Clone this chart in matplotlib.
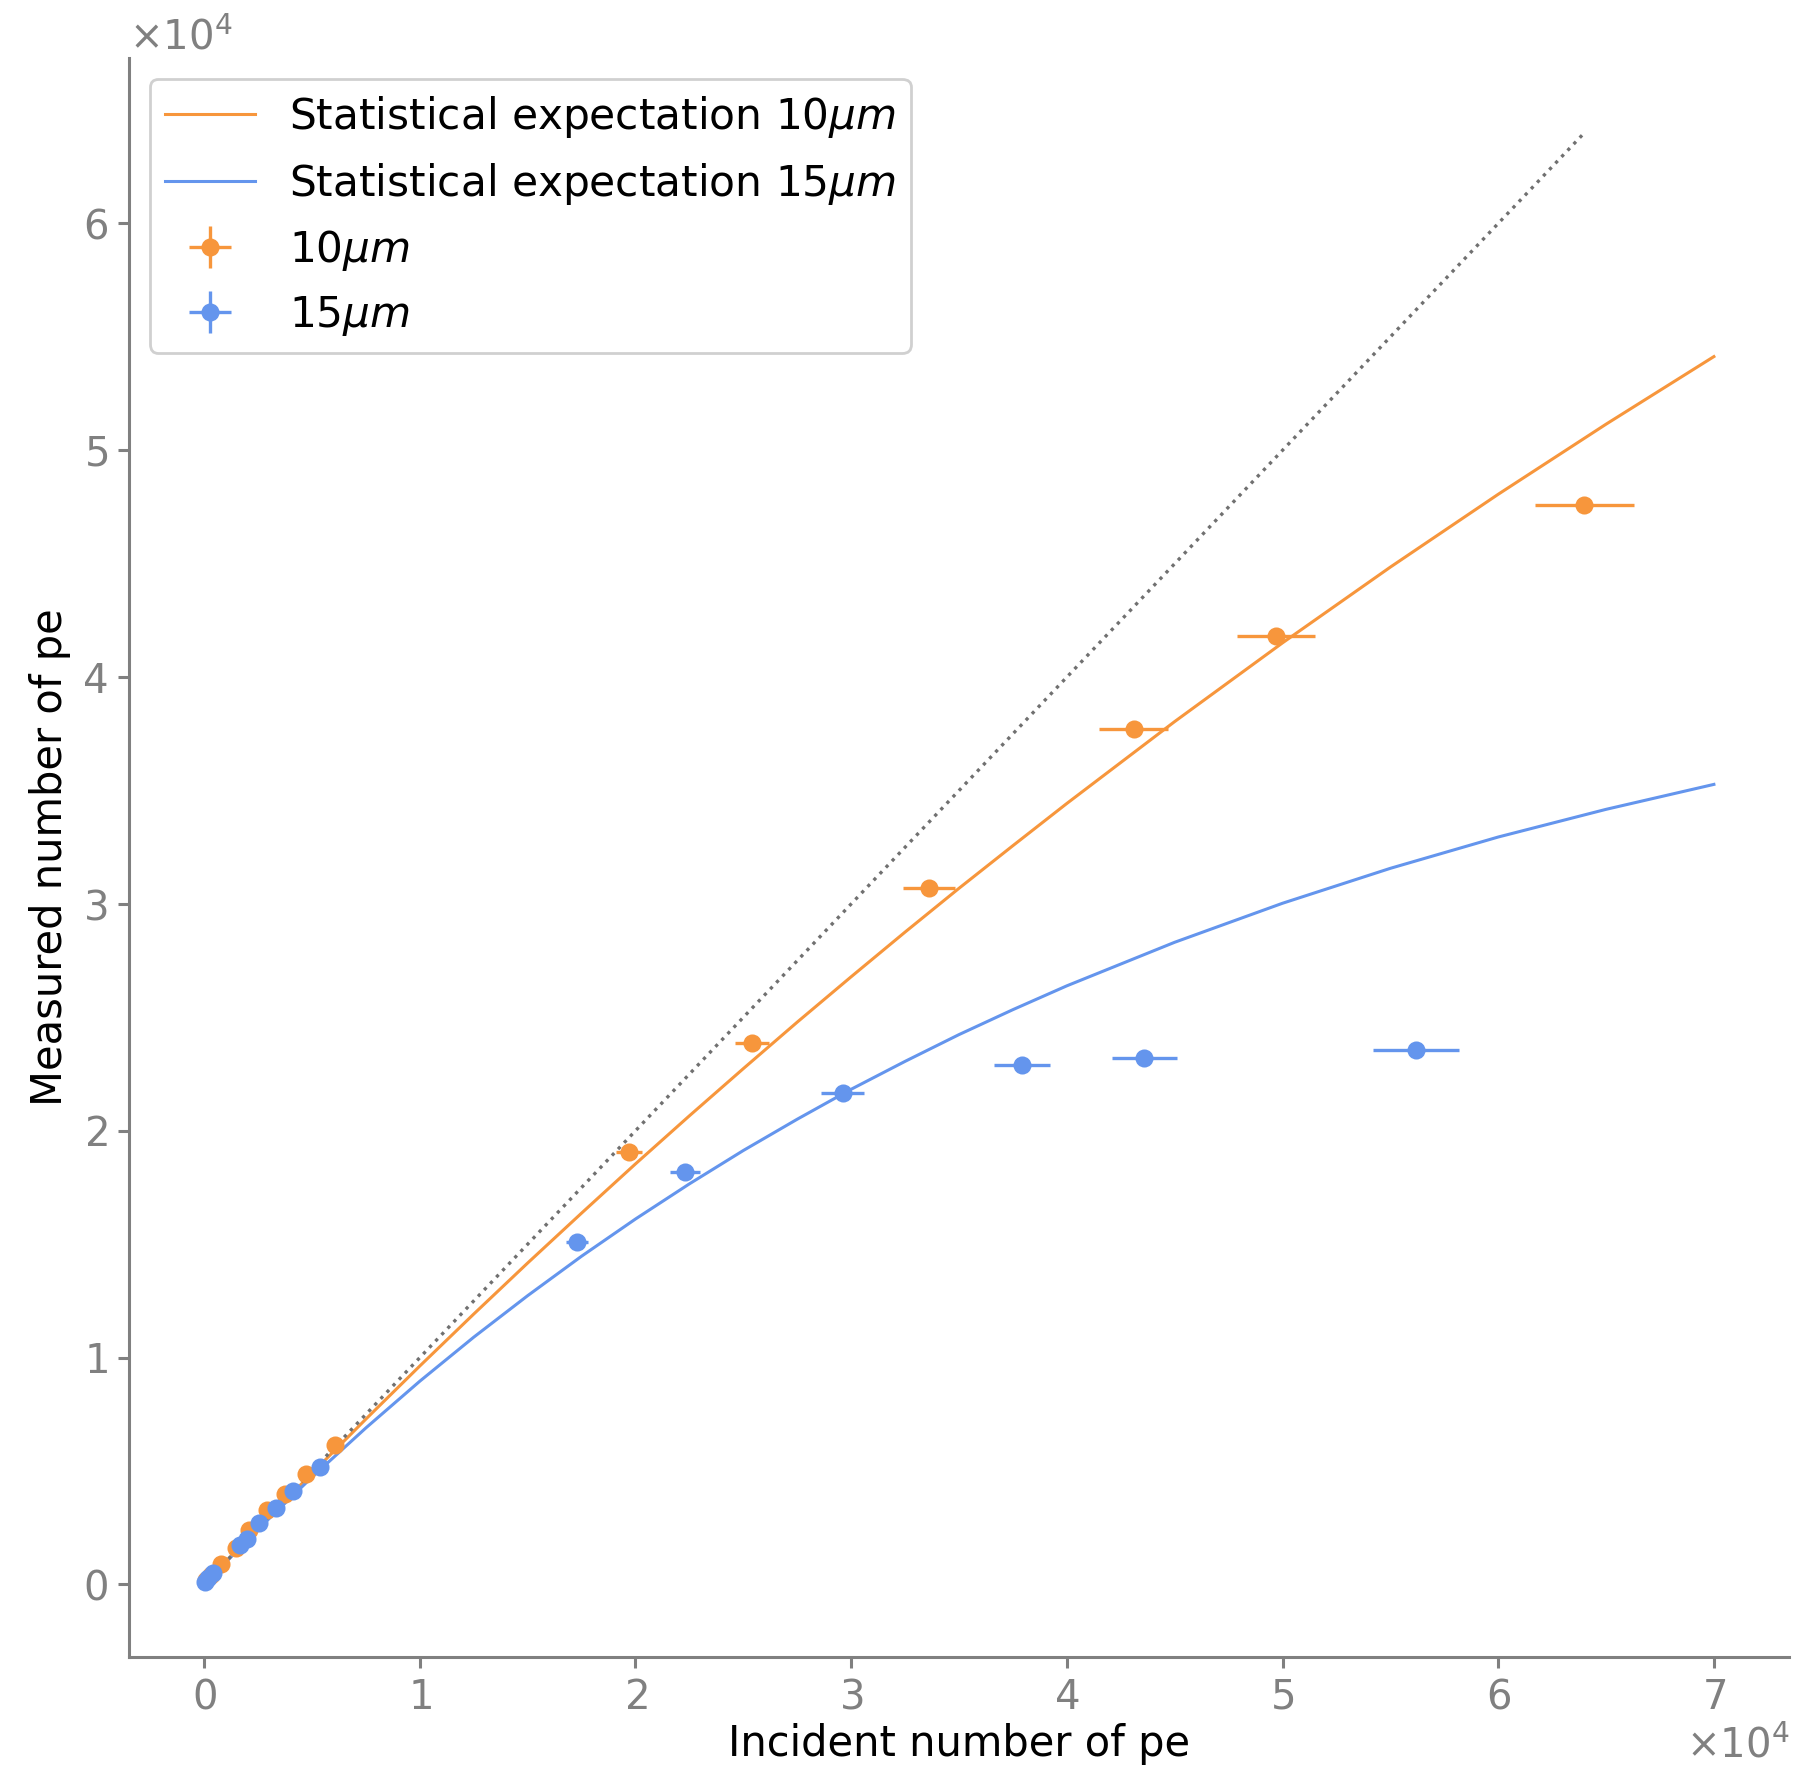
import numpy as np
import matplotlib.pyplot as plt

# measured points, 10um cells (units of 1e4 pe)
x10 = [0.01, 0.03, 0.08, 0.15, 0.21, 0.29, 0.376, 0.47, 0.607, 1.97, 2.54, 3.36, 4.31, 4.97, 6.40]
y10 = [0.02, 0.04, 0.09, 0.16, 0.24, 0.33, 0.40, 0.485, 0.613, 1.905, 2.385, 3.07, 3.77, 4.18, 4.76]
xerr10 = [0.0, 0.0, 0.0, 0.005, 0.01, 0.01, 0.01, 0.015, 0.02, 0.06, 0.08, 0.12, 0.16, 0.18, 0.23]
yerr10 = [0.0, 0.0, 0.0, 0.005, 0.01, 0.01, 0.01, 0.01, 0.015, 0.03, 0.03, 0.03, 0.03, 0.03, 0.03]

# measured points, 15um cells
x15 = [0.005, 0.02, 0.04, 0.167, 0.2, 0.256, 0.334, 0.414, 0.537, 1.73, 2.23, 2.96, 3.79, 4.36, 5.62]
y15 = [0.01, 0.03, 0.05, 0.173, 0.2, 0.27, 0.337, 0.414, 0.516, 1.51, 1.82, 2.165, 2.29, 2.32, 2.355]
xerr15 = [0.0, 0.0, 0.0, 0.005, 0.01, 0.01, 0.01, 0.015, 0.02, 0.05, 0.07, 0.10, 0.13, 0.15, 0.20]
yerr15 = [0.0, 0.0, 0.0, 0.005, 0.01, 0.01, 0.01, 0.01, 0.015, 0.03, 0.03, 0.02, 0.02, 0.02, 0.02]

# expectation curves
xc = [0, 0.25, 0.5, 0.75, 1, 1.25, 1.5, 1.75, 2, 2.25, 2.5, 2.75, 3, 3.25, 3.5, 3.75, 4,
      4.5, 5, 5.5, 6, 6.5, 7]
yc10 = [0, 0.248, 0.49, 0.729, 0.963, 1.192, 1.417, 1.637, 1.854, 2.066, 2.274, 2.479,
        2.679, 2.876, 3.069, 3.257, 3.443, 3.804, 4.151, 4.485, 4.806, 5.115, 5.413]
yc15 = [0, 0.243, 0.473, 0.69, 0.896, 1.09, 1.273, 1.447, 1.611, 1.766, 1.913, 2.051,
        2.183, 2.306, 2.424, 2.534, 2.639, 2.831, 3.003, 3.157, 3.295, 3.417, 3.527]

# identity line
xd = [0, 6.4]
yd = [0, 6.4]

orange = '#f7963c'
blue = '#6495ed'
grey = '#808080'
scale = 1e4

plt.rcParams['font.family'] = ['DejaVu Sans']
plt.rcParams['mathtext.fontset'] = 'dejavusans'

fig = plt.figure(figsize=(9.085, 8.845), dpi=200)
ax = fig.add_axes([0.0708, 0.0633, 0.914, 0.904])

ax.plot(np.array(xc) * scale, np.array(yc10) * scale, color=orange, lw=1.1,
        label=r'Statistical expectation 10$\mu m$')
ax.plot(np.array(xc) * scale, np.array(yc15) * scale, color=blue, lw=1.1,
        label=r'Statistical expectation 15$\mu m$')
ax.plot(np.array(xd) * scale, np.array(yd) * scale, color='#707070', ls=':', lw=1.2)

ax.errorbar(np.array(x10) * scale, np.array(y10) * scale,
            xerr=np.array(xerr10) * scale, yerr=np.array(yerr10) * scale,
            fmt='o', color=orange, ms=5.5, lw=1.2, label=r'10$\mu m$')
ax.errorbar(np.array(x15) * scale, np.array(y15) * scale,
            xerr=np.array(xerr15) * scale, yerr=np.array(yerr15) * scale,
            fmt='o', color=blue, ms=5.5, lw=1.2, label=r'15$\mu m$')

ax.set_xlim(-0.35e4, 7.35e4)
ax.set_ylim(-0.32e4, 6.73e4)
ax.set_xticks(np.arange(0, 8) * scale)
ax.set_yticks(np.arange(0, 7) * scale)
ax.ticklabel_format(style='sci', scilimits=(0, 0), useMathText=True)

for s in ['top', 'right']:
    ax.spines[s].set_visible(False)
for s in ['left', 'bottom']:
    ax.spines[s].set_color(grey)
    ax.spines[s].set_linewidth(1.1)
ax.tick_params(colors=grey, labelsize=14.5, length=4, width=1.1)
ax.xaxis.get_offset_text().set_fontsize(14.5)
ax.yaxis.get_offset_text().set_fontsize(14.5)
ax.xaxis.get_offset_text().set_color(grey)
ax.yaxis.get_offset_text().set_color(grey)

ax.set_xlabel('Incident number of pe', fontsize=15, labelpad=2)
ax.set_ylabel('Measured number of pe', fontsize=15)

ax.legend(loc='upper left', fontsize=15.2, handlelength=2.15, borderpad=0.35,
          edgecolor='#d0d0d0', framealpha=1)

fig.savefig('out.png')
